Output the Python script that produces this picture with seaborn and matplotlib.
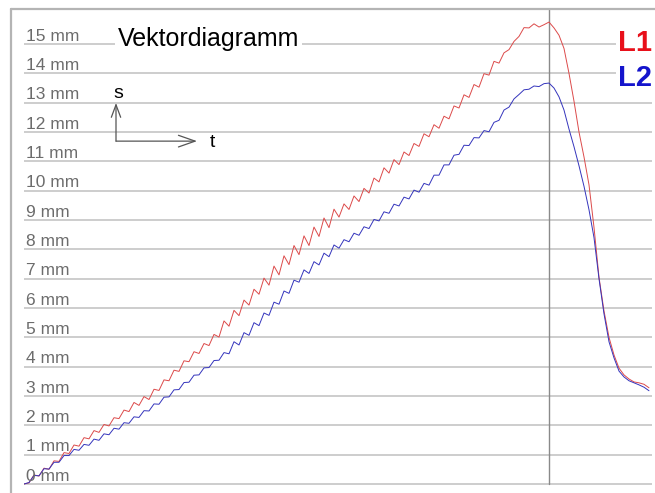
import numpy as np
import pandas as pd
import matplotlib
matplotlib.use("Agg")
import matplotlib.pyplot as plt
from matplotlib.lines import Line2D
import seaborn as sns

# Displacement of the two measuring points (mm), sampled at equal time steps
s_L1 = [
    0.00, 0.04, 0.31, 0.27, 0.54, 0.50, 0.79, 0.77, 1.07, 1.04,
    1.33, 1.29, 1.58, 1.54, 1.82, 1.76, 2.03, 1.98, 2.26, 2.23,
    2.52, 2.47, 2.78, 2.68, 2.98, 2.88, 3.23, 3.19, 3.55, 3.52,
    3.88, 3.84, 4.20, 4.17, 4.51, 4.45, 4.79, 4.72, 5.10, 5.01,
    5.56, 5.38, 5.92, 5.74, 6.27, 6.10, 6.64, 6.47, 7.02, 6.78,
    7.43, 7.13, 7.78, 7.48, 8.13, 7.82, 8.46, 8.13, 8.76, 8.44,
    9.07, 8.74, 9.37, 9.10, 9.55, 9.36, 9.82, 9.63, 10.08, 9.92,
    10.43, 10.30, 10.78, 10.60, 11.06, 10.89, 11.32, 11.20, 11.61, 11.51,
    11.94, 11.84, 12.25, 12.13, 12.54, 12.45, 12.89, 12.82, 13.27, 13.18,
    13.62, 13.53, 13.99, 13.94, 14.41, 14.35, 14.70, 14.81, 15.09, 15.26,
    15.56, 15.55, 15.69, 15.58, 15.66, 15.75,
    15.55, 15.30, 14.85, 14.00, 13.05, 12.00, 11.15, 10.20, 8.75, 7.05,
    5.90, 5.00, 4.40, 3.95, 3.72, 3.58, 3.48, 3.45, 3.40, 3.28,
]
s_L2 = [
    0.00, 0.05, 0.29, 0.28, 0.52, 0.51, 0.74, 0.74, 0.97, 0.97,
    1.18, 1.15, 1.35, 1.32, 1.53, 1.49, 1.71, 1.68, 1.90, 1.87,
    2.09, 2.07, 2.29, 2.27, 2.50, 2.49, 2.73, 2.72, 2.96, 2.97,
    3.21, 3.22, 3.46, 3.47, 3.71, 3.72, 3.96, 3.97, 4.21, 4.22,
    4.48, 4.44, 4.85, 4.74, 5.16, 5.07, 5.50, 5.40, 5.83, 5.75,
    6.20, 6.13, 6.58, 6.50, 6.95, 6.88, 7.30, 7.18, 7.58, 7.47,
    7.87, 7.75, 8.15, 8.04, 8.33, 8.26, 8.55, 8.48, 8.77, 8.71,
    9.02, 8.97, 9.28, 9.23, 9.54, 9.48, 9.78, 9.72, 10.02, 9.95,
    10.25, 10.19, 10.53, 10.53, 10.88, 10.88, 11.21, 11.24, 11.55, 11.54,
    11.81, 11.80, 12.05, 12.01, 12.33, 12.40, 12.75, 12.85, 13.13, 13.28,
    13.44, 13.46, 13.57, 13.55, 13.65, 13.67,
    13.50, 13.20, 12.75, 12.10, 11.50, 10.85, 10.15, 9.35, 8.40, 7.00,
    5.80, 4.85, 4.30, 3.85, 3.65, 3.52, 3.45, 3.38, 3.30, 3.18,
]
series_names = ["L1", "L2"]
series_colors = ["#dc4a4a", "#3434bc"]
label_colors = ["#e8101a", "#1414cc"]
mm_levels = list(range(0, 16))
mm_labels = [f"{v} mm" for v in mm_levels]
t_marker = 105
title = "Vektordiagramm"

t = np.arange(len(s_L1))
df = pd.DataFrame({
    "t": np.concatenate([t, t]),
    "s": np.concatenate([s_L1, s_L2]),
    "Lage": ["L1"] * len(s_L1) + ["L2"] * len(s_L2),
})

sns.set_theme(style="white")
plt.rcParams["font.family"] = ["Liberation Sans", "DejaVu Sans"]

W, H = 655, 493
fig = plt.figure(figsize=(W / 100, H / 100), dpi=100)
ax = fig.add_axes([24 / W, 0.0, (652 - 24) / W, (H - 9) / H])
ax.set_xlim(0, 125.6)
ax.set_ylim(-9 / 29.33, (484 - 9) / 29.33)
ax.axis("off")

# horizontal scale lines
for v in mm_levels:
    ax.axhline(v, color="#c0c0c0", lw=1.1, zorder=1)

# time marker at the turning point
y0, y1 = ax.get_ylim()
ax.axvline(t_marker, ymin=(0 - y0) / (y1 - y0), ymax=1, color="#8a8a8a", lw=1.0, zorder=1)

sns.lineplot(data=df, x="t", y="s", hue="Lage", palette=dict(zip(series_names, series_colors)),
             lw=0.7, legend=False, ax=ax, zorder=3)

# scale labels sitting on top of their lines
ytr = ax.get_yaxis_transform()
for v, lab in zip(mm_levels, mm_labels):
    ax.text(0.003, v + 0.11, lab, transform=ytr, ha="left", va="baseline",
            fontsize=12.5, color="#6c6c6c", zorder=4)

ax.text((118 - 24) / 628, 15 - 0.07, title, transform=ytr, ha="left", va="baseline",
        fontsize=18, color="black", zorder=5,
        bbox=dict(boxstyle="square,pad=0.12", fc="white", ec="none"))

for name, col, yb in zip(series_names, label_colors, [14.77, 13.57]):
    ax.text((618 - 24) / 628, yb, name, transform=ytr, ha="left", va="baseline",
            fontsize=21, fontweight="bold", color=col, zorder=5,
            bbox=dict(boxstyle="square,pad=0.08", fc="white", ec="none"))

# small s/t axis cross
arrow_col = "#555555"
ax.annotate("", xy=(18.4, 12.99), xytext=(18.4, 11.69),
            arrowprops=dict(arrowstyle="->,head_length=0.75,head_width=0.28",
                            color=arrow_col, lw=0.9, shrinkA=0, shrinkB=0))
ax.annotate("", xy=(34.6, 11.69), xytext=(18.4, 11.69),
            arrowprops=dict(arrowstyle="->,head_length=1.0,head_width=0.35",
                            color=arrow_col, lw=0.9, shrinkA=0, shrinkB=0))
ax.text(18.8, 13.16, "s", ha="center", va="baseline", fontsize=14, color="black")
ax.text(37.2, 11.49, "t", ha="left", va="baseline", fontsize=14, color="black")

# outer frame
frame_col = "#b4b4b4"
fig.add_artist(Line2D([11 / W, 11 / W], [0, (H - 9) / H], color=frame_col, lw=1.6))
fig.add_artist(Line2D([11 / W, 1], [(H - 9) / H, (H - 9) / H], color=frame_col, lw=1.6))

fig.savefig("out.png", dpi=100, facecolor="white")
